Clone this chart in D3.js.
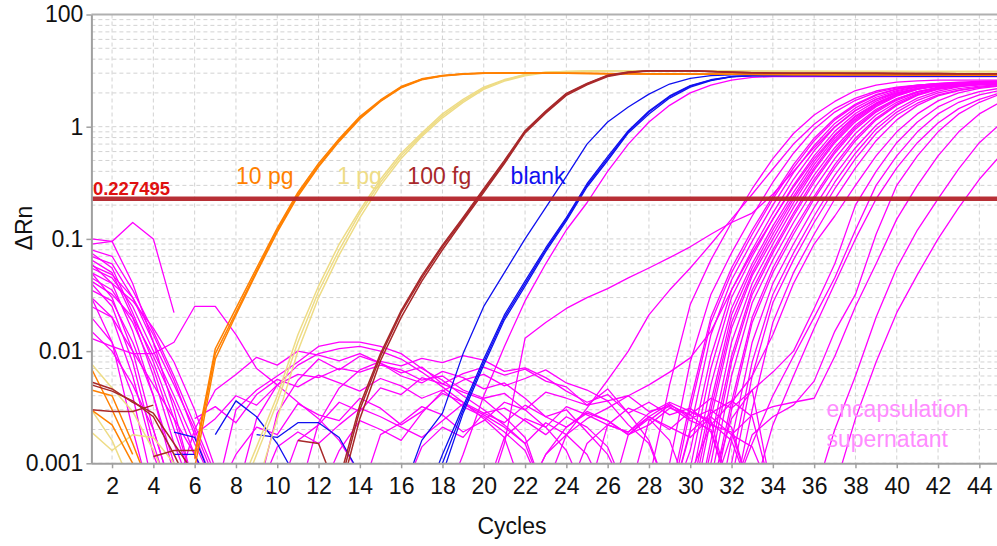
<!DOCTYPE html>
<html><head><meta charset="utf-8">
<script src="https://cdn.jsdelivr.net/npm/d3@7"></script>
<style>
body{margin:0;background:#fff}
svg{display:block}
text{font-family:"Liberation Sans",Arial,Helvetica,sans-serif}
</style>
</head><body>
<svg id="chart" width="997" height="546"></svg>
<script>
// ---------------- data ----------------
const cycles=[1,2,3,4,5,6,7,8,9,10,11,12,13,14,15,16,17,18,19,20,21,22,23,24,25,26,27,28,29,30,31,32,33,34,35,36,37,38,39,40,41,42,43,44,45];
const xTicks=[2,4,6,8,10,12,14,16,18,20,22,24,26,28,30,32,34,36,38,40,42,44];
const yTickValues=[0.001,0.01,0.1,1,10];
const yTickLabels=["0.001","0.01","0.1","1","100"];
const threshold=0.227495;
const groupLabels=["10 pg","1 pg","100 fg","blank","encapsulation","supernatant"];

// 10 pg (orange), values per cycle 1..45
const tenPg=[
[.007,.003,.0012,null,null,.0011,.0095,.022,.052,.12,.25,.45,.76,1.2,1.7,2.25,2.65,2.85,2.95,3.0,3.0,3.0,3.0,3.0,2.98,2.97,2.96,2.95,2.95,2.94,2.94,2.93,2.93,2.92,2.92,2.92,2.91,2.91,2.91,2.9,2.9,2.9,2.9,2.9,2.9],
[.0045,.004,.0015,.0005,null,.0009,.0085,.021,.05,.115,.24,.44,.74,1.17,1.68,2.22,2.62,2.83,2.94,2.99,3.0,3.0,3.0,2.99,2.98,2.97,2.96,2.95,2.94,2.94,2.93,2.93,2.92,2.92,2.91,2.91,2.9,2.9,2.9,2.89,2.89,2.89,2.88,2.88,2.88],
[.003,.0022,.001,.0004,null,.0012,.0105,.024,.055,.125,.26,.47,.78,1.23,1.73,2.28,2.67,2.86,2.96,3.01,3.02,3.02,3.01,3.0,2.99,2.98,2.97,2.96,2.96,2.95,2.95,2.94,2.94,2.93,2.93,2.93,2.92,2.92,2.92,2.91,2.91,2.91,2.91,2.9,2.9]
];
// 1 pg (pale yellow)
const onePg=[
[.0077,.0047,.0029,.0013,.0005,null,null,.0004,.0012,.0035,.012,.034,.08,.17,.32,.55,.85,1.25,1.7,2.2,2.6,2.9,3.05,3.1,3.13,3.15,3.15,3.15,3.14,3.14,3.13,3.13,3.12,3.12,3.12,3.11,3.11,3.11,3.1,3.1,3.1,3.1,3.1,3.1,3.1],
[.0019,.0013,.0018,.0017,.001,.0005,null,null,.0006,.0025,.01,.03,.072,.155,.3,.52,.82,1.2,1.65,2.15,2.55,2.85,3.02,3.08,3.12,3.14,3.14,3.14,3.13,3.13,3.12,3.12,3.12,3.11,3.11,3.11,3.1,3.1,3.1,3.1,3.09,3.09,3.09,3.09,3.09],
[.003,.0016,.0006,null,null,null,null,.0005,.0014,.004,.014,.038,.09,.18,.34,.58,.88,1.3,1.75,2.25,2.63,2.92,3.06,3.11,3.14,3.16,3.16,3.15,3.15,3.14,3.14,3.13,3.13,3.12,3.12,3.12,3.11,3.11,3.11,3.1,3.1,3.1,3.1,3.1,3.1]
];
// 100 fg (brown)
const hundredFg=[
[.005,.0044,.0036,.0026,.0012,.0005,null,null,null,null,null,null,.0006,.003,.009,.022,.045,.085,.15,.27,.48,.9,1.35,1.95,2.4,2.85,3.05,3.15,3.15,3.15,3.1,3.05,3.02,3.0,3.0,3.0,2.99,2.99,2.99,2.98,2.98,2.98,2.97,2.97,2.97],
[.003,.0029,.0029,.0033,null,null,null,null,null,null,.0016,.0015,.0005,.0025,.0082,.02,.042,.08,.145,.26,.47,.88,1.32,1.9,2.36,2.8,3.02,3.13,3.14,3.14,3.1,3.05,3.02,3.0,3.0,2.99,2.99,2.98,2.98,2.98,2.97,2.97,2.97,2.96,2.96],
[.0053,.0046,.0035,.0028,.0015,.0008,null,null,null,null,null,null,.0007,.0033,.0095,.023,.047,.088,.155,.28,.5,.92,1.38,1.98,2.43,2.88,3.07,3.16,3.16,3.15,3.1,3.06,3.03,3.01,3.0,3.0,2.99,2.99,2.99,2.98,2.98,2.98,2.97,2.97,2.97],
[null,null,null,.00115,.0013,.0013]
];
// blank (blue)
const blank=[
[null,null,null,null,.0019,.0017,.0006,null,null,null,null,null,null,null,null,.0005,.0016,.0028,.0095,.025,.05,.1,.19,.36,.7,1.1,1.5,1.95,2.4,2.7,2.85,2.9,2.9,2.9,2.9,2.89,2.89,2.89,2.88,2.88,2.88,2.87,2.87,2.87,2.86],
[null,null,null,null,null,null,.0018,.0036,.0026,.0015,.0007,null,null,null,null,null,.0004,.001,.003,.008,.02,.04,.08,.15,.3,.52,.9,1.35,1.85,2.3,2.6,2.8,2.85,2.85,2.85,2.85,2.84,2.84,2.84,2.84,2.83,2.83,2.83,2.83,2.83],
[null,null,null,null,null,null,null,null,.0018,.0017,.0023,.0023,.0017,.0008,null,null,.0004,.0008,.0028,.0075,.019,.038,.077,.145,.29,.5,.88,1.3,1.8,2.25,2.58,2.78,2.84,2.85,2.85,2.85,2.84,2.84,2.84,2.84,2.83,2.83,2.83,2.83,2.83],
[null,null,null,null,.0012,.0012,.0005,null,null,null,null,null,null,null,null,null,.0004,.0012,.0032,.0085,.021,.042,.083,.155,.31,.54,.92,1.38,1.88,2.32,2.62,2.8,2.85,2.86,2.86,2.86,2.85,2.85,2.85,2.85,2.84,2.84,2.84,2.84,2.84]
];
// encapsulation supernatant (magenta): early baseline, cycles 1..
const supEarly=[
[.1,.095,.14,.1,.022],
[.09,.095,.04,.012,.003,.0006],
[.065,.05,.02,.006,.0015,.0005],
[.06,.04,.015,.004,.0008],
[.055,.045,.025,.01,.004,.0015,.0006],
[.05,.03,.01,.002,.0005],
[.045,.035,.018,.007,.002,.0006],
[.04,.025,.008,.0015,.0004],
[.035,.028,.012,.004,.001,.0004],
[.03,.02,.006,.0012,.0004],
[.025,.02,.01,.005,.0025,.0012,.0005],
[.02,.012,.004,.0006],
[.015,.01,.005,.002,.0005],
[.07,.06,.03,.012,.005,.002,.0007],
[.013,.011,.0095,.0095,.012,.025,.025,.014,.007,.005,.0035,.0025,.0016,.0008],
[.08,.07,.035,.015,.006,.0022,.0008],
[.075,.055,.022,.008,.0025,.0006],
[.05,.04,.028,.016,.008,.003,.0009],
[.042,.032,.02,.009,.0035,.0012,.0004],
[.058,.048,.03,.014,.0055,.0018,.0006],
[.03,.012,.002,.0004]
];
// magenta mid-run noise: first cycle of each, then values
const supNoiseStart=[7,8,6,9,10,7,12,14,5,9,20,22,6,11,16,25,26,27,24,29];
const supNoise=[
[.0005,.003,.0045,.006,.008,.011,.012,.012,.011,.0095,.007,.0055,.004,.003,.0022,.0015,.0005],
[.0005,.0025,.005,.0075,.0095,.0105,.011,.01,.0085,.0065,.0048,.0035,.0025,.0017,.0005],
[.0018,.0025,.004,.0033,.005,.0062,.0058,.007,.0065,.0075,.0068,.0055,.006,.0045,.0038,.0042,.003,.0021,.0013,.0005],
[.0005,.0028,.0055,.0085,.0068,.009,.0078,.006,.0052,.0066,.0058,.0046,.0052,.0038,.0026,.003,.0019,.0012,.0005],
[.0005,.0016,.0022,.0035,.0029,.0047,.0041,.0058,.0051,.0063,.0072,.0061,.0069,.0054,.0048,.0033,.0036,.0022,.0015,.0005],
[.0005,.0012,.0021,.0018,.0034,.0027,.0024,.0038,.0031,.0022,.0029,.0042,.0035,.0028,.0031,.0024,.0018,.0026,.0021,.0014,.0005],
[.0005,.0013,.0024,.002,.0016,.0028,.0044,.0055,.0062,.0049,.0057,.0068,.0052,.0045,.0036,.004,.0029,.0032,.0024,.002,.0005],
[.0005,.0018,.0023,.0032,.0027,.0019,.0024,.0035,.003,.0043,.0038,.0033,.0046,.0028,.0035,.0027,.0031,.0022,.0019,.0005],
[.0005,.002,.0045,.0062,.0088,.0075,.01,.0092,.0082,.0095,.0078,.0064,.0072,.0051,.0043,.0037,.0026,.0017,.0005],
[.0005,.0014,.0019,.0015,.0022,.0031,.0026,.0021,.0017,.0024,.0034,.0027,.0021,.0015,.0023,.0018,.0012,.0005],
[.0005,.0017,.0025,.0021,.0032,.0027,.0022,.0019,.0026,.0021,.0017,.0026,.0018,.0014,.0005],
[.0005,.0012,.0021,.0028,.0024,.0018,.0022,.0031,.0027,.0019,.0005],
[.0025,.0032,.0023,.0041,.0056,.0048,.0061,.0052,.0044,.0057,.0049,.0038,.0045,.0032,.0026,.0019,.0013,.0005],
[.0005,.0023,.0047,.0068,.0081,.0074,.0086,.0079,.0091,.0083,.0066,.0071,.0058,.0044,.0035,.0041,.0028,.0016,.0005],
[.0005,.0014,.0021,.0017,.0028,.0023,.0033,.0026,.0021,.0029,.0024,.0018,.0025,.0016,.0005],
[.0005,.0022,.0031,.0026,.0034,.0025,.003,.0021,.0005],
[.0004,.0018,.0026,.002,.0029,.0023,.0016,.0005],
[.0005,.0024,.0033,.0027,.0038,.0031,.0045,.0005],
[.0005,.0015,.0022,.0019,.0028,.0035,.0029,.0024,.0005],
[.0004,.0019,.0028,.0036,.0026,.0005]
];
// magenta amplification curves: first cycle of each, then values
const supRiseStart=[18,20,22,23,27,28,28,29,29,29,29,30,30,30,30,31,31,31,31,30,31,32,31,36,37,29,30,29,31,31,32,32,33];
const supRise=[
[.0004,.0012,.004,.011,.028,.06,.12,.21,.4,.7,1.1,1.55,2.0,2.35,2.6,2.75,2.8,2.8,2.8,2.8,2.8,2.8,2.8,2.8,2.8,2.8,2.8,2.8],
[.0004,.0015,.013,.018,.024,.03,.036,.045,.055,.068,.085,.11,.14,.17,.25,.4,.65,1.0,1.4,1.75,2.0,2.2,2.3,2.4,2.45,2.45],
[.0005,.0012,.0018,.0025,.0031,.004,.005,.0065,.0087,.015,.035,.075,.15,.29,.52,.85,1.25,1.62,1.95,2.18,2.32,2.4,2.45,2.48],
[.0006,.0018,.0031,.0055,.01,.021,.035,.055,.09,.15,.25,.42,.7,1.05,1.45,1.8,2.08,2.25,2.35,2.42,2.45,2.47,2.48],
[.0004,.0007,.005,.026,.065,.14,.28,.52,.87,1.27,1.68,2.1,2.35,2.5,2.56,2.6,2.6,2.6,2.6],
[.0004,.001,.008,.032,.075,.16,.32,.58,.95,1.35,1.72,2.02,2.22,2.35,2.42,2.46,2.48,2.5],
[.0003,.0005,.0035,.02,.055,.12,.24,.46,.79,1.19,1.59,1.93,2.17,2.33,2.43,2.5,2.53,2.55],
[.0004,.002,.014,.043,.095,.2,.39,.68,1.07,1.47,1.83,2.1,2.27,2.37,2.42,2.44,2.45],
[.0004,.0013,.009,.035,.08,.17,.34,.61,.99,1.39,1.76,2.05,2.25,2.37,2.44,2.48,2.5],
[.0003,.0009,.007,.03,.07,.15,.3,.55,.91,1.31,1.69,2.0,2.18,2.3,2.36,2.39,2.4],
[.0002,.0006,.005,.024,.06,.13,.26,.49,.83,1.23,1.62,1.95,2.2,2.35,2.43,2.48,2.5],
[.0004,.003,.018,.05,.11,.227,.43,.75,1.15,1.55,1.9,2.15,2.3,2.4,2.45,2.47],
[.0003,.0025,.016,.047,.1,.21,.41,.72,1.11,1.51,1.87,2.15,2.33,2.45,2.52,2.55],
[.0002,.0016,.012,.04,.09,.19,.37,.65,1.03,1.43,1.78,2.05,2.22,2.32,2.37,2.4],
[.0002,.001,.008,.032,.075,.16,.32,.58,.95,1.35,1.72,2.02,2.22,2.35,2.44,2.5],
[.0007,.006,.027,.065,.14,.28,.52,.87,1.27,1.65,1.97,2.18,2.31,2.39,2.45],
[.0004,.003,.018,.05,.11,.227,.43,.75,1.15,1.55,1.9,2.15,2.28,2.36,2.4],
[.0002,.0016,.012,.04,.09,.19,.37,.65,1.03,1.43,1.8,2.08,2.27,2.4,2.47],
[.0002,.0007,.006,.027,.065,.14,.28,.52,.87,1.27,1.62,1.92,2.12,2.25,2.33],
[.0008,.0022,.0035,.006,.014,.04,.09,.16,.3,.55,.9,1.3,1.7,2.0,2.2,2.3],
[.0006,.0025,.0045,.0065,.01,.024,.06,.2,.4,.72,1.1,1.5,1.82,2.05,2.2],
[.0005,.0018,.0026,.0033,.0054,.015,.032,.11,.3,.55,.9,1.3,1.65,1.95],
[.0005,.0018,.0027,.0032,.0035,.0038,.009,.025,.06,.15,.3,.55,.9,1.3,1.65],
[.0005,.002,.006,.02,.055,.12,.227,.42,.72,1.05],
[.0006,.0025,.008,.022,.048,.1,.19,.34,.55],
[.0002,.0005,.0035,.021,.055,.12,.24,.46,.79,1.19,1.59,1.93,2.17,2.33,2.42,2.47,2.5],
[.0002,.0013,.009,.035,.08,.17,.34,.61,.99,1.39,1.76,2.05,2.25,2.37,2.43,2.46],
[.0004,.003,.018,.05,.11,.227,.43,.75,1.15,1.55,1.9,2.15,2.3,2.4,2.45,2.47,2.48],
[.0005,.0035,.02,.055,.12,.24,.46,.79,1.19,1.59,1.93,2.17,2.31,2.39,2.43],
[.0002,.001,.008,.032,.075,.16,.32,.58,.95,1.35,1.72,2.0,2.18,2.3,2.37],
[.0004,.003,.018,.05,.11,.227,.43,.75,1.15,1.55,1.88,2.1,2.24,2.32],
[.0005,.0015,.004,.009,.02,.045,.12,.3,.55,.9,1.3,1.65,1.92,2.1],
[.0005,.0022,.006,.016,.04,.1,.227,.43,.72,1.08,1.45,1.75,2.0]
];

// ---------------- chart ----------------
(function(){
const svg=d3.select("#chart");
const W=997;
const pL=91.4, pR=1000, pT=14.5, pB=463.3;
const x=d3.scaleLinear().domain([1,45]).range([pL,pR]);
const y=d3.scaleLog().domain([0.001,10]).range([pB,pT]);

svg.append("defs").append("clipPath").attr("id","plotclip")
  .append("rect").attr("x",pL).attr("y",pT).attr("width",W-pL).attr("height",pB-pT);

// grid
const grid=svg.append("g");
grid.selectAll("line.h").data(y.ticks()).join("line").attr("class","h")
  .attr("x1",pL).attr("x2",W).attr("y1",d=>y(d)).attr("y2",d=>y(d))
  .attr("stroke","#d2d2d2").attr("stroke-width",1).attr("stroke-dasharray","4,3");
grid.selectAll("line.v").data(xTicks).join("line").attr("class","v")
  .attr("x1",d=>x(d)).attr("x2",d=>x(d)).attr("y1",pT).attr("y2",pB)
  .attr("stroke","#d2d2d2").attr("stroke-width",1).attr("stroke-dasharray","4,3");

// curves
const plot=svg.append("g").attr("clip-path","url(#plotclip)");
const line=d3.line().defined(d=>d.v!==null && d.v!==undefined).x(d=>x(d.c)).y(d=>y(d.v));
function draw(series, starts, color, w){
  series.forEach((vals,k)=>{
    const s=starts?starts[k]:cycles[0];
    const pts=vals.map((v,i)=>({c:cycles[s-1+i],v:v}));
    plot.append("path").attr("d",line(pts)).attr("fill","none")
      .attr("stroke",color).attr("stroke-width",w).attr("stroke-linejoin","round");
  });
}
const magenta="#ff00ff";
draw(supEarly,null,magenta,1.3);
draw(supNoise,supNoiseStart,magenta,1.3);
draw(supRise,supRiseStart,magenta,1.3);
draw(blank,null,"#1010f0",1.3);
draw(onePg,null,"#eedc86",1.5);
draw(tenPg,null,"#ff8000",1.5);
draw(hundredFg,null,"#a8282a",1.5);

// threshold
plot.append("line").attr("x1",pL).attr("x2",W).attr("y1",y(threshold)).attr("y2",y(threshold))
  .attr("stroke","#b3242a").attr("stroke-width",4.5).attr("stroke-opacity",0.95);
svg.append("text").attr("x",pL+1.5).attr("y",y(threshold)-4)
  .attr("font-family","'Liberation Serif','Times New Roman',serif").attr("font-weight","bold")
  .attr("font-size",18.5).attr("fill","#e01010").text(threshold.toString());

// axes
const xAxis=d3.axisBottom(x).tickValues(xTicks).tickSize(5).tickSizeOuter(0).tickPadding(9);
const gx=svg.append("g").attr("transform",`translate(0,${pB})`).call(xAxis);
gx.select(".domain").attr("stroke","#a0a0a0").attr("stroke-width",2).attr("d",`M${pL},0.5H${W}`);
gx.selectAll(".tick line").attr("stroke","#a0a0a0").attr("stroke-width",1.5);
gx.selectAll(".tick text").attr("font-size",23).attr("fill","#111").attr("font-family","'Liberation Sans',Arial,sans-serif");

const yAxis=d3.axisLeft(y).tickValues(yTickValues).tickFormat((d,i)=>yTickLabels[i]).tickSize(5).tickSizeOuter(0).tickPadding(3);
const gy=svg.append("g").attr("transform",`translate(${pL},0)`).call(yAxis);
gy.select(".domain").attr("stroke","#a0a0a0").attr("stroke-width",2);
gy.selectAll(".tick line").attr("stroke","#a0a0a0").attr("stroke-width",1.5);
gy.selectAll(".tick text").attr("font-size",23).attr("fill","#111").attr("font-family","'Liberation Sans',Arial,sans-serif");

svg.append("line").attr("x1",pL).attr("x2",W).attr("y1",pT).attr("y2",pT)
  .attr("stroke","#b0b0b0").attr("stroke-width",2);

// axis titles
svg.append("text").attr("x",512).attr("y",534).attr("text-anchor","middle")
  .attr("font-size",23).attr("fill","#111").text("Cycles");
svg.append("text").attr("transform","translate(32,228) rotate(-90)").attr("text-anchor","middle")
  .attr("font-size",23).attr("fill","#111").text("ΔRn");

// group labels
const lab=[
  {t:groupLabels[0],cx:8.0,yy:184,col:"#ff8000"},
  {t:groupLabels[1],cx:12.9,yy:184,col:"#eedc86"},
  {t:groupLabels[2],cx:16.3,yy:184,col:"#a8282a"},
  {t:groupLabels[3],cx:21.3,yy:184,col:"#1010f0"},
  {t:groupLabels[4],cx:36.6,yy:417,col:"#ff8cff"},
  {t:groupLabels[5],cx:36.6,yy:447,col:"#ff8cff"}
];
svg.selectAll("text.lab").data(lab).join("text").attr("class","lab")
  .attr("x",d=>x(d.cx)).attr("y",d=>d.yy).attr("font-size",23).attr("fill",d=>d.col).text(d=>d.t);
})();
</script>
</body></html>
